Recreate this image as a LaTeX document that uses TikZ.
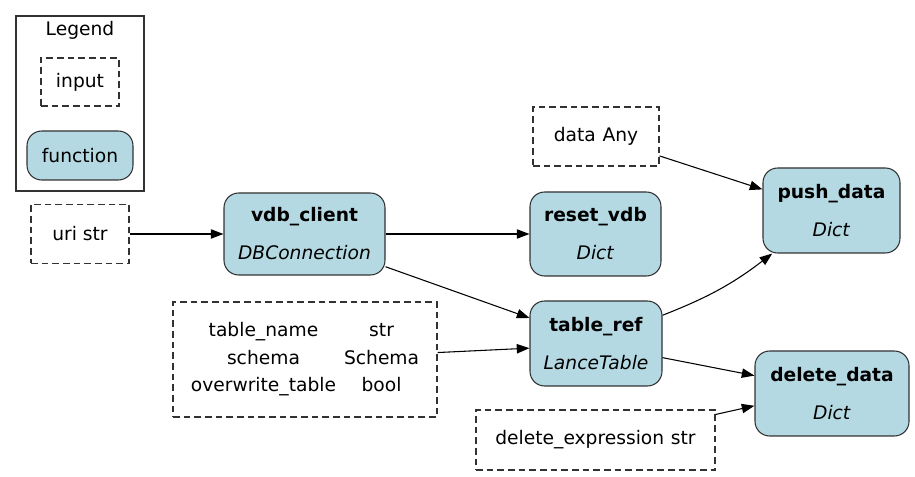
\documentclass[tikz,border=0pt]{standalone}
\usepackage{fontspec}
\setmainfont{DejaVu Sans}
\usetikzlibrary{arrows.meta}
\definecolor{lightBlue}{RGB}{180,217,227}
\definecolor{frameGray}{RGB}{50,50,50}

\tikzset{
	funcbox/.style={draw=frameGray, line width=0.8pt, fill=lightBlue, rounded corners=11pt, align=center, inner sep=0pt, font=\fontsize{14}{28.5}\selectfont},
	inputbox/.style={draw=frameGray, line width=0.8pt, dash pattern=on 5pt off 3pt, align=center, inner sep=0pt, font=\fontsize{14}{17}\selectfont},
	flow/.style={line width=0.8pt, -{Triangle[length=9.5pt, width=7pt]}}
}

\begin{document}
\begin{tikzpicture}[x=0.75pt, y=-0.75pt]

	\useasboundingbox (0,0) rectangle (915,477);

% Legend.

	\node[draw=frameGray, line width=0.8pt, minimum width=96pt, minimum height=131.25pt, inner sep=0pt] (legend) at (80,103.5) {};
	\node[font=\fontsize{14}{17}\selectfont] (legendTitle) at (80,30) {Legend};
	\node[inputbox, minimum width=58.5pt, minimum height=36pt] (legendInput) at (80,82) {input};
	\node[funcbox, minimum width=79.5pt, minimum height=36.75pt] (legendFunc) at (80,155.5) {function};

% Inputs.

	\node[inputbox, minimum width=73.5pt, minimum height=44.25pt] (uri) at (80,234) {uri str};
	\node[inputbox, minimum width=94.5pt, minimum height=44.25pt] (data) at (596,136.5) {data\hspace{5pt}Any};
	\node[inputbox, minimum width=198pt, minimum height=86.25pt] (tableInputs) at (305,359.5) {%
		\begin{tabular}{c@{\hspace{6pt}}c}
			table\_name & str\\[3.6pt]
			schema & Schema\\[3.6pt]
			overwrite\_table & bool
		\end{tabular}};
	\node[inputbox, minimum width=179.25pt, minimum height=45pt] (deleteExpr) at (595.5,440) {delete\_expression\hspace{5pt}str};

% Functions.

	\node[funcbox, minimum width=120.75pt, minimum height=61.5pt] (vdbClient) at (304.5,234) {\textbf{vdb\_client}\\\textit{DBConnection}};
	\node[funcbox, minimum width=98.25pt, minimum height=63pt] (resetVdb) at (595.5,234) {\textbf{reset\_vdb}\\\textit{Dict}};
	\node[funcbox, minimum width=102.75pt, minimum height=63.75pt] (pushData) at (831.5,210.5) {\textbf{push\_data}\\\textit{Dict}};
	\node[funcbox, minimum width=99pt, minimum height=63.75pt] (tableRef) at (596,343.5) {\textbf{table\_ref}\\\textit{LanceTable}};
	\node[funcbox, minimum width=115.5pt, minimum height=63.75pt] (deleteData) at (832,393.5) {\textbf{delete\_data}\\\textit{Dict}};

% Draw edges.

	\draw[flow] (uri.east) -- (vdbClient.west);
	\draw[flow] (vdbClient.east) -- (resetVdb.west);
	\draw[flow] (vdbClient.-22) -- (tableRef.159);
	\draw[flow] (tableInputs.3) -- (tableRef.184);
	\draw[flow] (data.-17) -- (pushData.163);
	\draw[flow] (tableRef.23) to[bend right=8] (pushData.216);
	\draw[flow] (tableRef.-12) -- (deleteData.167);
	\draw[flow] (deleteExpr.12) -- (deleteData.189);

\end{tikzpicture}
\end{document}
